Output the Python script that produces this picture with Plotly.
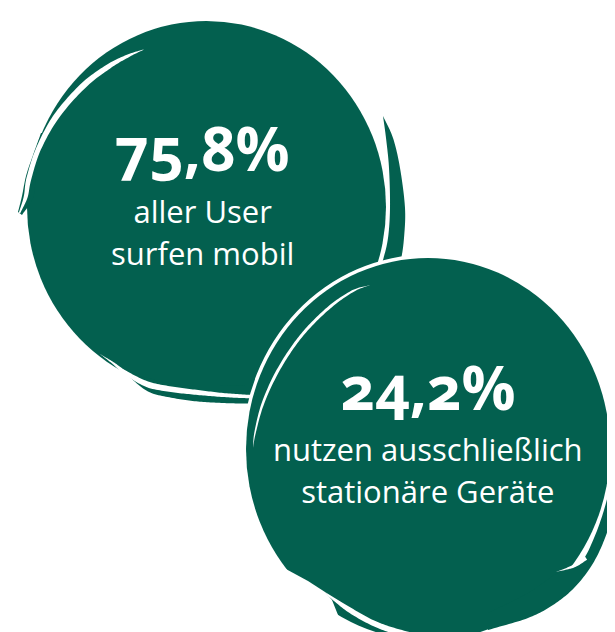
import numpy as np
import plotly.graph_objects as go

W, H = 615, 632
GREEN = "#03604F"
FONT = "Open Sans"

# ---- data (text content of the two bubbles) ----
value_labels = ["75,8%", "24,2%"]
caption_line1 = ["aller User", "nutzen ausschließlich"]
caption_line2 = ["surfen mobil", "stationäre Geräte"]

# ---- layout of bubbles (decorative geometry, pixel space) ----
bubble_centers = [(198.5, 199.0), (420.0, 441.0)]
bubble_radii = [(179.5, 186.0), (182.0, 191.0)]
text_x = [194, 420]
big_y = [139.5, 378.5]
caption_y = [223.5, 462]
CAP_SIZE = 31
CAP_SPACING_BASE = 32.6   # line spacing = 1.3 * base


def catmull(pts, n=14):
    P = np.asarray(pts, float)
    if len(P) < 3:
        return P
    P = np.vstack([2 * P[0] - P[1], P, 2 * P[-1] - P[-2]])
    out = []
    for i in range(1, len(P) - 2):
        p0, p1, p2, p3 = P[i - 1], P[i], P[i + 1], P[i + 2]
        for t in np.linspace(0, 1, n, endpoint=False):
            out.append(0.5 * ((2 * p1) + (-p0 + p2) * t + (2 * p0 - 5 * p1 + 4 * p2 - p3) * t * t
                              + (-p0 + 3 * p1 - 3 * p2 + p3) * t ** 3))
    out.append(P[-2])
    return np.array(out)


def to_path(poly):
    return "M " + " L ".join(f"{x:.2f},{y:.2f}" for x, y in poly) + " Z"


def stroke_poly(center_pts, widths, n=14):
    c = catmull(center_pts, n)
    w = np.asarray(widths, float)
    idx = np.linspace(0, len(w) - 1, len(c))
    ww = np.interp(idx, np.arange(len(w)), w)
    d = np.gradient(c, axis=0)
    nrm = np.stack([-d[:, 1], d[:, 0]], axis=1)
    nrm /= np.linalg.norm(nrm, axis=1, keepdims=True) + 1e-9
    left = c + nrm * ww[:, None] / 2
    right = c - nrm * ww[:, None] / 2
    return np.vstack([left, right[::-1]])


def band_poly(outer, inner, n=14):
    return np.vstack([catmull(outer, n), catmull(inner, n)[::-1]])


def shp(poly, color):
    return dict(type="path", xref="x", yref="y", path=to_path(poly),
                fillcolor=color, line=dict(width=0), layer="above")


def ellipse(c, r, color):
    return dict(type="circle", xref="x", yref="y", x0=c[0] - r[0], x1=c[0] + r[0],
                y0=c[1] - r[1], y1=c[1] + r[1], fillcolor=color, line=dict(width=0), layer="above")


shapes = []
# ---------- bubble 1 ----------
shapes.append(ellipse(bubble_centers[0], bubble_radii[0], GREEN))
shapes.append(shp(band_poly([(33, 125), (24, 150), (18, 168), (14, 188), (10, 204)],
                            [(36, 125), (32, 150), (28, 168), (25, 190), (14, 207)]), GREEN))
ts = np.radians([250.8, 245, 238, 228, 215, 203, 193, 187])
cx, cy, R = 196.2, 210.9, 179.9
w1_pts = [(cx + R * np.cos(t), cy + R * np.sin(t)) for t in ts] + [(11.5, 205)]
w1_w = [0, 3, 5, 6, 6, 5, 5, 4, 1.5]
shapes.append(shp(stroke_poly(w1_pts, w1_w), "white"))
shapes.append(shp(band_poly([(375, 108), (385, 130), (392, 160), (397, 200), (396, 230), (393, 252), (388, 275), (380, 300)],
                            [(375, 108), (378, 130), (381, 160), (382, 200), (380, 230), (375, 252), (368, 275), (358, 300)]), GREEN))
shapes.append(shp(band_poly([(118, 366), (140, 383.5), (165, 390), (190, 393.5), (215, 395), (240, 395.5), (265, 395)],
                            [(118, 364), (140, 370), (160, 375), (190, 378), (240, 377), (265, 375)]), GREEN))
shapes.append(shp(stroke_poly([(92, 346), (105, 355), (118, 365), (140, 376.5), (165, 381.5), (190, 384.5), (215, 387), (240, 388.5), (265, 389.5)],
                              [0, 2, 4, 6, 5.5, 5, 4, 3.5, 3]), "white"))

# ---------- bubble 2 ----------
c2, r2 = bubble_centers[1], bubble_radii[1]
shapes.append(ellipse(c2, (r2[0] + 3.5, r2[1] + 3.5), "white"))
shapes.append(ellipse(c2, r2, GREEN))
shapes.append(shp(stroke_poly([(362, 277), (345, 283), (323, 298), (300, 320), (282, 343), (266, 370), (254, 398), (247, 425), (245, 440)],
                              [0, 2, 3, 3, 3, 3, 2.5, 1.5, 0]), "white"))
shapes.append(shp(band_poly([(607, 366), (612, 385), (615, 410), (617, 430), (615, 460), (608, 495), (597, 530), (584, 557), (566, 580), (545, 597), (520, 610), (480, 622)],
                            [(607, 366), (607, 385), (608, 410), (608, 430), (605, 460), (598, 495), (586, 530), (572, 555), (548, 566), (520, 585), (480, 605)]), GREEN))
shapes.append(shp(stroke_poly([(578, 550), (566, 558), (548, 564)], [4, 3, 0]), "white"))
shapes.append(shp(np.array([(276, 560), (300, 573), (317, 584), (324, 592), (332, 612), (300, 600), (272, 570)]), "white"))
shapes.append(shp(band_poly([(317, 584), (340, 598), (365, 612), (390, 621), (420, 628), (450, 633)],
                            [(320, 588), (340, 604), (365, 618), (390, 627), (420, 634), (450, 640)]), "white"))

annotations = []
for i in range(2):
    annotations.append(dict(x=text_x[i], y=big_y[i], xref="x", yref="y", text=value_labels[i], showarrow=False,
                            xanchor="center", yanchor="middle", borderpad=0,
                            font=dict(family=FONT, size=60, color="white", weight="bold")))
    cap = (f"<span style='font-size:{CAP_SIZE}px'>{caption_line1[i]}</span><br>"
           f"<span style='font-size:{CAP_SIZE}px'>{caption_line2[i]}</span>")
    annotations.append(dict(x=text_x[i], y=caption_y[i], xref="x", yref="y", text=cap, showarrow=False,
                            xanchor="center", yanchor="middle", align="center", borderpad=0,
                            font=dict(family=FONT, size=CAP_SPACING_BASE, color="white")))

fig = go.Figure()
fig.update_layout(width=W, height=H, margin=dict(l=0, r=0, t=0, b=0), autosize=False,
                  paper_bgcolor="white", plot_bgcolor="white", showlegend=False,
                  xaxis=dict(range=[0, W], visible=False, fixedrange=True),
                  yaxis=dict(range=[H, 0], visible=False, fixedrange=True),
                  shapes=shapes, annotations=annotations)

post = "document.querySelectorAll('.annotation-text').forEach(function(t){t.style.fontVariantNumeric='oldstyle-nums';t.style.fontFeatureSettings='\"onum\" 1';});"
fig.write_html("out.html", config=dict(displayModeBar=False), post_script=post)
